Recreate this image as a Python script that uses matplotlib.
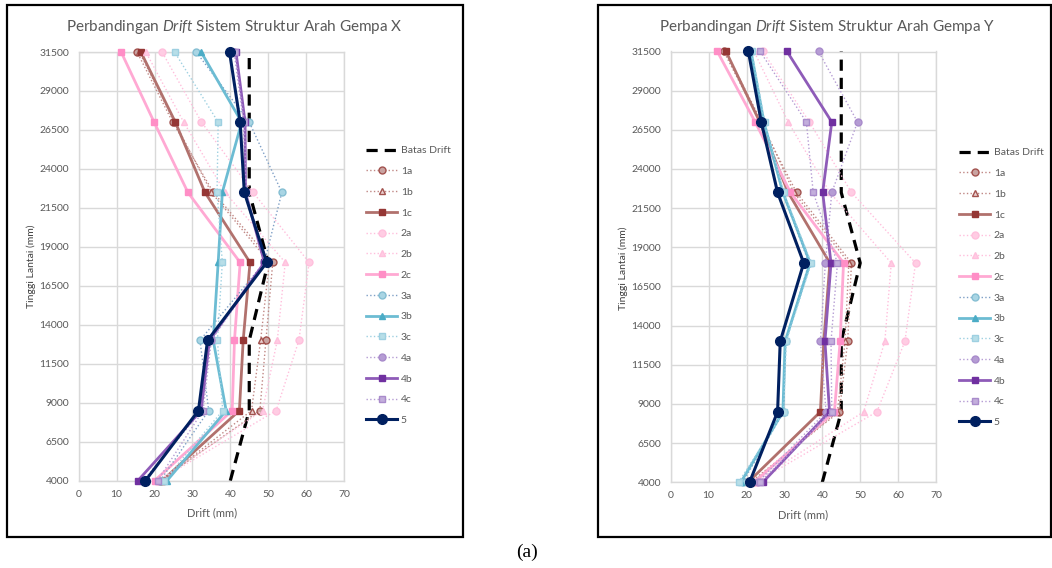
import matplotlib
matplotlib.use("Agg")
import matplotlib.pyplot as plt
from matplotlib.patches import Rectangle

plt.rcParams['font.family'] = ['Lato', 'DejaVu Sans']
plt.rcParams['mathtext.fontset'] = 'custom'
plt.rcParams['mathtext.rm'] = 'Lato'
plt.rcParams['mathtext.it'] = 'Lato:italic'

# ---------------- data ----------------
heights = [4000, 8500, 13000, 18000, 22500, 27000, 31500]
batas_drift = [40, 45, 45, 50, 45, 45, 45]

series_names = ['1a', '1b', '1c', '2a', '2b', '2c', '3a', '3b', '3c', '4a', '4b', '4c', '5']

# Arah Gempa X
x_1a = [21.5, 47.8, 49.4, 51.2, 35.5, 24.8, 15.4]
x_1b = [21.8, 45.6, 48.0, 50.3, 35.0, 25.3, 16.0]
x_1c = [22.0, 42.4, 43.4, 45.2, 33.3, 25.5, 16.4]
x_2a = [21.0, 52.1, 58.1, 60.8, 46.0, 32.4, 22.0]
x_2b = [21.0, 48.5, 52.4, 54.5, 38.6, 27.7, 17.7]
x_2c = [20.0, 40.5, 41.1, 42.6, 28.8, 19.9, 11.2]
x_3a = [21.5, 34.3, 32.0, 49.0, 53.6, 45.0, 31.0]
x_3b = [23.3, 38.9, 35.5, 36.8, 37.9, 43.0, 32.3]
x_3c = [22.5, 38.0, 36.6, 37.9, 36.5, 36.8, 25.3]
x_4a = [17.0, 32.5, 34.8, 49.0, 44.0, 43.5, 41.0]
x_4b = [15.6, 32.3, 34.5, 49.0, 44.0, 43.9, 41.5]
x_4c = [20.8, 32.8, 35.0, 49.2, 44.2, 43.7, 41.2]
x_5 = [17.6, 31.6, 34.0, 49.6, 43.7, 42.6, 39.8]

# Arah Gempa Y
y_1a = [21.0, 44.5, 46.7, 47.7, 33.2, 23.6, 14.0]
y_1b = [21.5, 44.0, 46.0, 47.0, 32.5, 24.0, 14.5]
y_1c = [20.4, 39.5, 40.4, 42.0, 31.0, 23.5, 14.6]
y_2a = [22.5, 54.4, 61.8, 64.6, 47.7, 36.6, 24.3]
y_2b = [22.0, 50.9, 56.5, 58.2, 42.0, 31.0, 22.0]
y_2c = [22.0, 43.2, 44.7, 45.6, 31.6, 22.3, 12.3]
y_3a = [19.0, 29.8, 30.3, 36.5, 29.5, 24.5, 21.0]
y_3b = [18.5, 29.6, 30.2, 36.8, 29.6, 24.6, 21.2]
y_3c = [17.9, 29.8, 30.5, 37.1, 29.8, 24.8, 21.4]
y_4a = [23.0, 41.0, 39.5, 40.8, 42.5, 49.3, 39.0]
y_4b = [24.3, 41.9, 40.7, 42.3, 40.1, 42.5, 30.7]
y_4c = [23.5, 42.5, 42.3, 44.0, 37.6, 35.8, 23.6]
y_5 = [20.8, 28.2, 28.9, 35.1, 28.2, 23.9, 20.5]

x_ticks = [0, 10, 20, 30, 40, 50, 60, 70]
y_ticks = [4000, 6500, 9000, 11500, 14000, 16500, 19000, 21500, 24000, 26500, 29000, 31500]

data_X = [x_1a, x_1b, x_1c, x_2a, x_2b, x_2c, x_3a, x_3b, x_3c, x_4a, x_4b, x_4c, x_5]
data_Y = [y_1a, y_1b, y_1c, y_2a, y_2b, y_2c, y_3a, y_3b, y_3c, y_4a, y_4b, y_4c, y_5]

# ---------------- styles ----------------
styles = {
    '1a': dict(ls=':', lw=1.0, color='#C08784', marker='o', ms=5, mfc='#C9A3A1', mec='#A2524E', mew=1.0),
    '1b': dict(ls=':', lw=1.0, color='#C08784', marker='^', ms=5, mfc='#EBD1D0', mec='#A2524E', mew=1.0),
    '1c': dict(ls='-', lw=2.0, color='#B1716D', marker='s', ms=5, mfc='#953735', mec='#953735', mew=1.0),
    '2a': dict(ls=':', lw=1.0, color='#FFBFDC', marker='o', ms=5, mfc='#FFCCE3', mec='#FFC0DD', mew=1.0),
    '2b': dict(ls=':', lw=1.0, color='#FFBFDC', marker='^', ms=5, mfc='#FFCCE3', mec='#FFC0DD', mew=1.0),
    '2c': dict(ls='-', lw=2.0, color='#FFA9D3', marker='s', ms=5, mfc='#FF8EC6', mec='#FF8EC6', mew=1.0),
    '3a': dict(ls=':', lw=1.0, color='#7E9FC6', marker='o', ms=5, mfc='#A9D5E4', mec='#86BFD3', mew=1.0),
    '3b': dict(ls='-', lw=2.0, color='#6CBCD3', marker='^', ms=5, mfc='#4BACC6', mec='#4BACC6', mew=1.0),
    '3c': dict(ls=':', lw=1.0, color='#9ED0E1', marker='s', ms=5, mfc='#B7DEE8', mec='#9ED0E1', mew=1.0),
    '4a': dict(ls=':', lw=1.0, color='#B59CD4', marker='o', ms=5, mfc='#B59CD4', mec='#A98BCB', mew=1.0),
    '4b': dict(ls='-', lw=2.0, color='#8E5BB8', marker='s', ms=5, mfc='#7030A0', mec='#7030A0', mew=1.0),
    '4c': dict(ls=':', lw=1.0, color='#B59CD4', marker='s', ms=5, mfc='#C3AEDC', mec='#A98BCB', mew=1.0),
    '5':  dict(ls='-', lw=2.2, color='#002060', marker='o', ms=7, mfc='#002060', mec='#002060', mew=1.0),
}

W, H = 1052, 568
fig = plt.figure(figsize=(W / 100, H / 100), dpi=100)

grey = '#595959'
grid_c = '#D9D9D9'


def make_panel(left_px, right_px, top_px, bottom_px, data, title, title_xy, ylab_xy, xlab_xy, leg_xy):
    ax = fig.add_axes([left_px / W, 1 - bottom_px / H, (right_px - left_px) / W, (bottom_px - top_px) / H])
    ax.plot(batas_drift, heights, color='black', lw=2.3, ls=(0, (3.5, 2.2)), label='Batas Drift',
            clip_on=False, zorder=2)
    for name, xs in zip(series_names, data):
        st = styles[name]
        ax.plot(xs, heights, linestyle=st['ls'], lw=st['lw'], color=st['color'], marker=st['marker'],
                markersize=st['ms'], markerfacecolor=st['mfc'], markeredgecolor=st['mec'],
                markeredgewidth=st['mew'], label=name, clip_on=False, zorder=3)
    ax.set_xlim(0, 70)
    ax.set_ylim(4000, 31500)
    ax.set_xticks(x_ticks)
    ax.set_yticks(y_ticks)
    ax.set_xticklabels([str(v) for v in x_ticks])
    ax.set_yticklabels([str(v) for v in y_ticks])
    ax.grid(True, color=grid_c, lw=1.0, zorder=0)
    ax.set_axisbelow(True)
    for s in ax.spines.values():
        s.set_color(grid_c)
        s.set_linewidth(1.0)
    ax.tick_params(length=0, labelsize=7.5, labelcolor=grey)
    ax.tick_params(axis='y', pad=7)
    ax.tick_params(axis='x', pad=6.5)
    fig.text(title_xy[0] / W, 1 - title_xy[1] / H, title, ha='center', va='center', fontsize=11, color=grey)
    fig.text(ylab_xy[0] / W, 1 - ylab_xy[1] / H, 'Tinggi Lantai (mm)', rotation=90, ha='center',
             va='center', fontsize=7.5, color='#404040')
    fig.text(xlab_xy[0] / W, 1 - xlab_xy[1] / H, 'Drift (mm)', ha='center', va='center', fontsize=8,
             color=grey)
    handles, labels = ax.get_legend_handles_labels()
    fig.legend(handles, labels, loc='upper left', bbox_to_anchor=(leg_xy[0] / W, 1 - leg_xy[1] / H),
               frameon=False, fontsize=7.5, labelcolor=grey, handlelength=3.0, handletextpad=0.35,
               labelspacing=1.1, borderpad=0, borderaxespad=0)
    return ax


make_panel(78.7, 344, 52, 480.7, data_X,
           r'Perbandingan $\mathit{Drift}$ Sistem Struktur Arah Gempa X',
           (234, 27), (31, 266), (212, 513), (366, 146))
make_panel(670.7, 936, 51.5, 482.3, data_Y,
           r'Perbandingan $\mathit{Drift}$ Sistem Struktur Arah Gempa Y',
           (827, 27), (623, 268), (803, 515), (959, 148))

# panel frames
for (x0, y0, x1, y1) in [(7, 5, 463, 537), (598, 5, 1051, 537)]:
    fig.patches.append(Rectangle((x0 / W, 1 - y1 / H), (x1 - x0) / W, (y1 - y0) / H,
                                 transform=fig.transFigure, fill=False, edgecolor='black', lw=1.6))

fig.text(527 / W, 1 - 552 / H, '(a)', ha='center', va='center', fontsize=14,
         family=['Liberation Serif', 'DejaVu Serif'], color='black')

fig.savefig('out.png', dpi=100)
